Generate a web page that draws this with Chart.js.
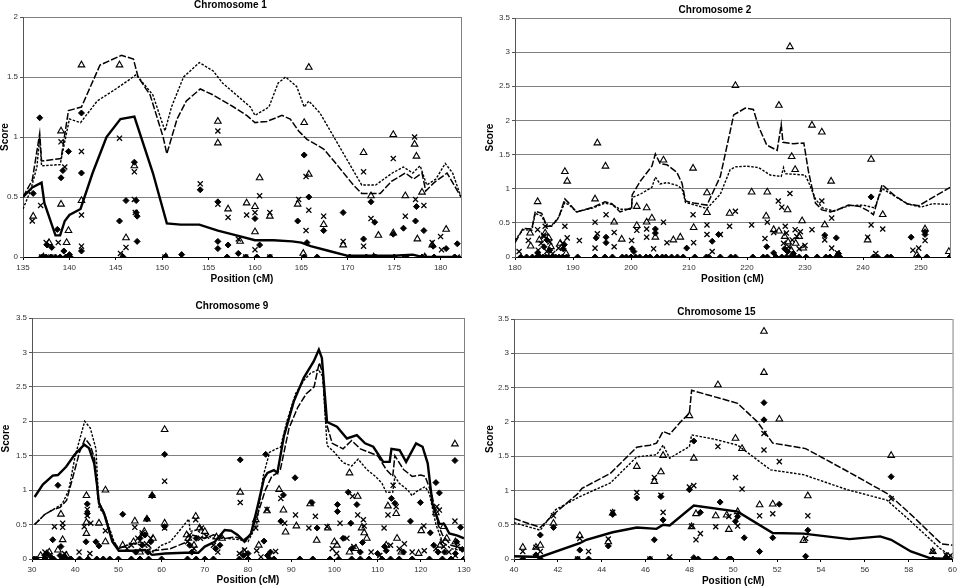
<!DOCTYPE html>
<html>
<head>
<meta charset="utf-8">
<script src="https://cdn.jsdelivr.net/npm/chart.js@4/dist/chart.umd.min.js"></script>
<style>
  body { margin: 0; background: #fff; }
  #wrap { position: relative; width: 960px; height: 586px; overflow: hidden; }
  .panel { position: absolute; width: 480px; height: 293px; }
</style>
</head>
<body>
<div id="wrap">
  <div class="panel" style="left:0;top:0"><canvas id="chr1"></canvas></div>
  <div class="panel" style="left:480px;top:0"><canvas id="chr2"></canvas></div>
  <div class="panel" style="left:0;top:293px"><canvas id="chr9"></canvas></div>
  <div class="panel" style="left:480px;top:293px"><canvas id="chr15"></canvas></div>
</div>
<script>
// ---- Chromosome 1 ----
const chr1Solid = [[135,0.5],[136,0.58],[137,0.62],[137.3,0.45],[138.5,0.18],[139,0.18],[139.5,0.3],[140,0.35],[141.2,0.4],[142.5,0.7],[144,1.0],[145.5,1.15],[147,1.17],[149,0.7],[150.5,0.28],[152,0.27],[154,0.27],[156,0.22],[158,0.18],[160,0.14],[162,0.14],[164,0.13],[165,0.12],[166,0.09],[168,0.05],[170,0.01],[172,0.01],[175,0.01],[177,0.02],[178,0],[182.2,0]];
const chr1Dashed = [[135,0.5],[136,0.64],[136.8,1.03],[137,0.8],[139.1,0.82],[139.9,1.22],[141.3,1.25],[143.3,1.6],[145.6,1.68],[146.9,1.65],[147.4,1.5],[148.7,1.35],[150.1,1.0],[150.5,0.86],[151.6,1.15],[152.6,1.3],[154.1,1.4],[155.5,1.35],[157.7,1.25],[159.1,1.18],[160,1.12],[161.3,1.13],[162.9,1.18],[163.8,1.15],[164.7,1.05],[165.6,0.98],[167.4,0.9],[168.5,0.8],[170.6,0.6],[171.5,0.53],[173.5,0.53],[174.7,0.63],[176.2,0.7],[177.1,0.65],[178,0.7],[178.4,0.55],[179.3,0.62],[180.7,0.7],[182.2,0.5]];
const chr1Dotted = [[135,0.4],[135.8,0.55],[136.5,0.75],[136.8,1.0],[137,0.76],[139,0.77],[140,1.15],[141.2,1.12],[143,1.3],[145,1.4],[146.5,1.48],[147.2,1.52],[149,1.35],[150.3,1.05],[151,1.25],[152.3,1.5],[154,1.62],[155.5,1.55],[156.5,1.45],[158,1.35],[159.5,1.25],[160,1.18],[161.5,1.25],[162.5,1.45],[163.3,1.5],[164.5,1.42],[165.3,1.25],[165.8,1.3],[167,1.2],[168.5,1.0],[170,0.8],[171.5,0.6],[173,0.6],[174.8,0.7],[176,0.75],[177,0.7],[177.8,0.76],[178.5,0.6],[179.5,0.65],[180.5,0.78],[181.3,0.7],[182.2,0.5]];
const chr1Diamonds = [[136.8,1.16],[139.1,0.66],[139.3,0.72],[139.9,0.88],[141.3,1.2],[141.3,0.7],[136.1,0.53],[138.7,0.23],[145.4,0.3],[146.1,0.47],[147,0.79],[147.2,0.47],[147.2,0.37],[147.3,0.34],[147.3,0.13],[154.1,0.56],[156,0.46],[156,0.13],[156,0.07],[157.1,0.1],[158.2,0.03],[160,0.32],[160.5,0.1],[165.3,0.85],[165.6,0.12],[165.8,0.5],[164.6,0.3],[167.4,0.22],[169.5,0.37],[172.5,0.46],[172.9,0.29],[171.7,0.15],[177.3,0.3],[177.4,0.42],[178.2,0.22],[179.2,0.09],[180.6,0.07],[181.8,0.11],[174.9,0.19],[176,0.24],[141.3,0.05],[137.6,0.1],[138.1,0.08],[139.4,0.05],[140,0.02],[137,0],[137.5,0],[138,0],[138.5,0],[139,0],[139.6,0],[140.1,0],[145.8,0],[150.3,0],[152.1,0.02],[157,0],[159,0],[160.2,0],[161.6,0],[165.3,0],[166.7,0],[170.2,0],[172,0],[173,0],[175,0],[176.3,0],[178,0],[179.3,0],[181.5,0]];
const chr1Crosses = [[136,0.3],[136.9,0.43],[139.1,0.96],[139.5,0.75],[141.3,0.88],[141.3,0.35],[141.3,0.09],[145.4,0.99],[146.1,0.08],[145.5,0.03],[147,0.71],[147,0.48],[147.1,0.37],[154.1,0.61],[156,1.05],[156,0.44],[157.1,0.33],[158.2,0.15],[159.1,0.35],[160,0.37],[160,0.06],[160.5,0.51],[161.6,0.37],[164.7,0.48],[165.5,0.22],[165.8,0.39],[165.5,0.67],[167.4,0.34],[169.5,0.13],[171.7,0.71],[171.7,0.09],[172.5,0.32],[174.9,0.82],[176.2,0.34],[177.2,1.0],[177.3,0.48],[178.2,0.43],[179.1,0.12],[180,0.17],[180.1,0.06],[137.5,0.12],[138.8,0.12],[137,0],[138,0],[150.3,0],[159,0],[161.6,0],[170,0],[176,0],[178.2,0],[181.8,0]];
const chr1Triangles = [[136.1,0.34],[141.3,1.6],[145.4,1.6],[139.1,0.44],[139.1,1.05],[139.9,0.22],[141.3,0.47],[146.1,0.16],[147,0.76],[156,1.13],[156,0.95],[157.1,0.4],[159.1,0.45],[160,0.42],[160,0.21],[160.5,0.66],[161.6,0.34],[164.6,0.44],[165.3,1.12],[165.8,1.58],[165.8,0.69],[167.4,0.27],[169.5,0.1],[171.7,0.87],[172.5,0.51],[173.3,0.18],[174.9,1.02],[174.9,0.2],[176.2,0.51],[177.2,0.94],[177.4,0.84],[178,0.54],[179.1,0.1],[180.6,0.23],[177.5,0.15],[158.4,0.13],[137.8,0.12],[139.7,0.12],[137.2,0],[145.7,0],[150.4,0],[165.2,0.03],[172.8,0],[178.3,0]];

// ---- Chromosome 2 ----
const chr2Dashed = [[180,0.21],[181.4,0.42],[182.9,0.41],[183.5,0.67],[184.6,0.64],[185.5,0.45],[186.3,0.45],[187.5,0.57],[188.6,0.85],[189.5,0.77],[190.6,0.66],[193.5,0.73],[195.5,0.81],[196.7,0.78],[198.1,0.66],[200.1,0.72],[200.2,0.91],[201.6,1.11],[203.6,1.33],[204.2,1.51],[205,1.37],[206.2,1.35],[207.9,1.24],[208.8,1.08],[209.4,0.82],[210.8,0.79],[213.1,0.76],[215.4,1.18],[217.1,1.84],[217.7,2.08],[219.7,2.18],[221.1,2.16],[222,1.91],[223.4,1.64],[225.2,1.56],[225.9,1.94],[226.2,1.68],[228,1.66],[229.8,1.67],[230.6,1.25],[231.8,0.79],[232.9,0.69],[234.4,0.66],[235.8,0.7],[237.5,0.76],[239.5,0.74],[241.2,0.66],[241.8,0.62],[243.3,1.06],[245.3,0.91],[247.6,0.78],[249.6,0.75],[255,1.02]];
const chr2Dotted = [[180,0.25],[181.4,0.4],[182.9,0.39],[183.5,0.64],[184.6,0.6],[185.5,0.44],[186.3,0.46],[187.5,0.58],[188.6,0.8],[189.5,0.75],[190.6,0.66],[193.5,0.72],[195.5,0.79],[196.7,0.77],[198.1,0.7],[200.1,0.7],[200.2,0.87],[201.6,0.92],[203.6,1.02],[204.2,1.17],[205,1.07],[206.2,1.09],[207.9,1.05],[208.8,1.0],[209.4,0.8],[213.1,0.71],[215.4,0.92],[217.1,1.28],[218,1.32],[220,1.33],[222,1.31],[224,1.2],[225.9,1.18],[226.3,1.31],[226.6,1.22],[230,1.2],[230.6,1.1],[231.8,0.85],[233,0.72],[235,0.67],[237.5,0.75],[240,0.76],[242,0.72],[243.3,1.0],[245.3,0.9],[247.6,0.78],[250,0.73],[252,0.78],[255,0.77]];
const chr2Diamonds = [[241.4,0.88],[248.3,0.29],[250.7,0.37],[250.7,0.33],[235.4,0.28],[233.4,0.32],[215.1,0.33],[214,0.23],[209.6,0.13],[223.4,0.15],[224.6,0.06],[204.2,0.35],[204.2,0.41],[195.7,0.29],[195.7,0.21],[183.9,0.06],[185,0.15],[185.5,0.25],[186,0.1],[188.3,0.12],[188.5,0.18],[194,0.28],[200.2,0.12],[200.5,0.08],[226.5,0.12],[227,0.08],[228,0.05],[235.8,0.05],[181,0],[182,0],[183,0],[183.8,0],[184.3,0],[184.8,0],[185.3,0],[185.8,0],[186.4,0],[187,0],[187.6,0],[188.2,0],[188.9,0],[190.8,0],[193.8,0],[195.5,0],[196.8,0],[198.5,0],[199.2,0],[200,0],[200.8,0],[201.5,0],[202.6,0],[203.3,0],[204.5,0],[205.4,0],[206,0],[207,0],[208,0],[209,0],[211,0],[213,0],[213.4,0],[215.4,0],[217.2,0],[218,0],[221,0],[222.8,0],[223.5,0],[225,0],[226,0],[226.8,0],[227.5,0],[228.2,0],[229,0],[230.2,0],[232.1,0],[233.6,0],[234.3,0],[235.4,0],[236,0],[241.8,0],[242.5,0],[244.2,0],[244.8,0],[249.5,0],[251,0],[255,0]];
const chr2Crosses = [[180.7,0.08],[182.3,0.24],[183.9,0.4],[184.9,0.32],[185.2,0.45],[188.6,0.45],[189,0.28],[191.1,0.24],[193.8,0.51],[194.2,0.34],[195.7,0.62],[197.1,0.36],[197.1,0.15],[193.8,0.13],[200.1,0.24],[201,0.39],[202.7,0.41],[202.7,0.29],[203.9,0.12],[205.6,0.51],[206.2,0.21],[210.7,0.62],[210.8,0.21],[213.1,0.47],[213.1,0.33],[214,0.08],[215.4,0.33],[217,0.45],[218,0.67],[220.8,0.47],[223.1,0.27],[223.5,0.51],[224.6,0.36],[225.4,0.82],[226,0.73],[227.4,0.93],[226.6,0.45],[228.3,0.4],[229.2,0.37],[230,0.17],[231.2,0.4],[232.9,0.82],[233.4,0.25],[234.6,0.13],[234.6,0.57],[240.8,0.29],[241.4,0.47],[243.4,0.41],[248.6,0.1],[250.7,0.24],[249.6,0.13],[184,0.1],[184.5,0.2],[185,0.3],[185.5,0.08],[186,0.22],[186.5,0.05],[187.5,0.13],[188.2,0.2],[226.3,0.2],[226.8,0.35],[227.2,0.15],[227.8,0.25],[228.6,0.3],[229,0.12],[242.2,0.05],[235.6,0.06]];
const chr2Triangles = [[183.9,0.81],[182.6,0.35],[182.7,0.16],[188.6,1.25],[189,1.11],[193.8,0.85],[194.2,1.67],[195.6,1.33],[197.1,0.51],[198.4,0.26],[201,0.74],[201,0.46],[202.7,0.72],[203.6,0.57],[202.7,0.51],[205.6,1.42],[204.2,0.29],[207.3,0.25],[208.5,0.29],[210.7,1.3],[210.8,0.43],[213.1,0.94],[213.1,0.65],[217,0.64],[218,2.51],[220.8,0.95],[223.3,0.6],[223.5,0.95],[224.6,0.4],[225.5,2.22],[227.7,1.47],[227.4,3.08],[228.3,1.28],[227,0.69],[229.5,0.53],[231.2,1.93],[232.9,1.83],[233.4,0.47],[234.5,1.11],[241.4,1.43],[243.4,0.62],[240.8,0.25],[249.3,0.03],[250.7,0.41],[254.8,0.08],[229.7,0.13],[184.2,0.25],[185.2,0.35],[185.8,0.28],[186.2,0.15],[187.8,0.2],[188.8,0.05],[225.5,0.38],[226.5,0.3],[227.1,0.22],[227.6,0.1],[228.4,0.2],[229,0.3]];

// ---- Chromosome 9 ----
const chr9Solid = [[30.6,0.9],[32.5,1.08],[34.8,1.21],[36,1.22],[37.9,1.34],[39.8,1.51],[42.1,1.66],[43.2,1.61],[44.4,1.39],[45.1,1.05],[45.5,0.81],[46.7,0.66],[48.6,0.25],[50.1,0.12],[53.2,0.12],[56.2,0.13],[57.8,0.06],[60.8,0.08],[65.4,0.09],[68.5,0.09],[70,0.18],[72.3,0.25],[74.6,0.42],[76.1,0.41],[77.6,0.35],[79.2,0.25],[80.7,0.37],[82.2,0.76],[83.7,1.17],[84.5,1.25],[86,1.29],[86.8,1.25],[88.3,1.78],[90.6,2.29],[92.9,2.63],[95.2,2.87],[96.4,3.04],[97.1,2.92],[98.3,1.99],[100.6,1.92],[102.9,1.75],[105.2,1.8],[107.1,1.68],[109,1.63],[111.3,1.41],[112.8,1.41],[113.2,1.6],[115.1,1.58],[116.6,1.41],[118.9,1.68],[120.4,1.63],[121.6,1.39],[122.7,0.8],[124.3,0.51],[125.4,0.51],[126.6,0.37],[128.5,0.34],[130,0.3]];
const chr9Dashed = [[30.6,0.5],[33,0.65],[35,0.72],[36.5,0.75],[38,0.85],[39.5,1.2],[41,1.55],[42.3,1.75],[43.5,1.65],[44.5,1.45],[45.3,0.85],[46.5,0.7],[48.5,0.3],[50,0.15],[52,0.2],[55,0.25],[57,0.2],[58,0.12],[62,0.15],[66,0.25],[67,0.35],[70,0.3],[72,0.35],[75,0.3],[77,0.32],[79,0.28],[80.5,0.35],[82,0.6],[84,1.0],[85.5,1.2],[86.8,1.25],[87.5,1.3],[89.5,1.9],[91.5,2.2],[93.5,2.4],[95.3,2.5],[96.5,2.85],[97.3,2.7],[98,2.0],[99.5,1.68],[102,1.6],[104,1.72],[106,1.6],[108,1.55],[110,1.5],[112,1.3],[113.5,1.2],[114,1.5],[116,1.3],[118,1.2],[120,1.22],[121,1.2],[122.5,0.95],[124,0.5],[125,0.35],[127,0.2],[130,0.15]];
const chr9Dotted = [[30.6,0.5],[33,0.65],[35,0.72],[37,0.8],[38.5,1.0],[40,1.5],[42.2,2.0],[43.5,1.9],[44.8,1.6],[45.5,0.75],[47,0.62],[49,0.25],[50,0.15],[52,0.2],[54,0.22],[56,0.2],[58,0.1],[60,0.2],[62,0.25],[64,0.4],[66.3,0.58],[66.6,0.4],[68,0.42],[70,0.35],[72,0.3],[75,0.3],[78,0.28],[80,0.25],[82,0.5],[83.5,1.2],[85,1.55],[86.5,1.6],[87.5,1.62],[89,2.0],[91,2.4],[93,2.6],[94.5,2.7],[96.3,2.75],[97.3,2.65],[98.3,1.65],[100,1.55],[102,1.4],[104,1.35],[105.5,1.45],[107.5,1.3],[109.5,1.2],[111,1.1],[112,0.97],[113.5,0.97],[114,1.2],[115,1.1],[117,1.0],[118,0.92],[119,0.98],[121,1.05],[122,0.95],[123.5,0.5],[125,0.25],[127,0.15],[130,0.12]];
const chr9Diamonds = [[36,1.07],[34.8,0.28],[36.7,0.18],[42.8,0.8],[42.8,0.66],[42.5,0.25],[44.8,0.25],[45.5,0.19],[51,0.65],[57.8,0.92],[56.6,0.58],[60.7,1.52],[60.7,0.47],[78.2,1.44],[83.7,0.26],[84.1,1.52],[88.2,0.93],[87.6,0.55],[90.9,1.18],[94.8,0.82],[96,0.45],[100.7,0.79],[100.7,0.69],[103.2,0.97],[103.8,0.52],[105.2,0.79],[106.5,0.24],[111.6,0.18],[113.2,0.88],[114,0.81],[117.6,0.55],[119.9,0.82],[123.5,1.11],[124.3,0.96],[127.9,1.43],[122.2,0.38],[128.3,0.25],[129.2,0.46],[129.6,0.14],[33,0.05],[33.5,0.08],[34.5,0.02],[36.5,0.05],[37.5,0.03],[54,0.1],[55,0.3],[55.5,0.2],[56.2,0.35],[56.8,0.1],[57.5,0.25],[66.5,0.2],[67,0.1],[68,0.3],[72.5,0.15],[73.5,0.2],[79,0.05],[80,0.08],[84.5,0.05],[85.2,0.1],[102,0.3],[104,0.15],[106,0.1],[110,0.08],[112,0.12],[116,0.1],[123,0.2],[124,0.1],[125.5,0.1],[128,0.08],[30.5,0],[31,0],[33,0],[35,0],[37,0],[38,0],[39,0],[41,0],[43,0],[45,0],[46.5,0],[48,0],[50,0],[53,0],[55,0],[57,0],[60,0],[66,0],[68,0],[70,0],[72,0],[78,0],[80,0],[85,0],[86,0],[92,0],[95,0],[99,0],[101,0],[104,0],[106,0],[108,0],[111,0],[113,0],[115,0],[118,0],[122,0],[125,0],[127,0],[130,0]];
const chr9Crosses = [[35.2,0.47],[37.1,0.46],[37.1,0.52],[42.8,0.72],[42.8,0.63],[42.1,0.47],[43.6,0.52],[43.4,0.08],[40.9,0.1],[47,0.41],[53.8,0.46],[55.5,0.38],[60.7,1.13],[60.7,0.45],[67.9,0.57],[69.2,0.45],[70.4,0.33],[78.2,0.82],[79.2,0.13],[81.8,0.45],[84.4,0.72],[86.4,0.11],[87.6,0.88],[88.5,0.52],[91,0.64],[94.1,0.45],[95.6,0.62],[98.3,0.47],[101.3,0.52],[102.9,0.3],[104.2,0.91],[105.4,0.64],[106.7,0.57],[106.9,0.48],[111.5,0.45],[112.4,0.64],[113.6,1.07],[114.3,0.76],[116.2,0.22],[120.7,0.48],[120.8,0.12],[123.7,0.76],[124.3,0.71],[127.9,0.55],[128.5,0.18],[125.3,0.18],[33,0.1],[34,0.05],[37.5,0.08],[52,0.15],[53,0.2],[54.5,0.3],[55.5,0.35],[56.5,0.22],[57.5,0.3],[66,0.25],[66.5,0.35],[67.5,0.15],[69,0.3],[72,0.2],[73,0.1],[78,0.08],[82,0.12],[83,0.03],[99.5,0.15],[100.5,0.08],[104.5,0.18],[108.5,0.1],[110.5,0.05],[113,0.2],[115,0.15],[118,0.1],[123.5,0.15],[125,0.25],[126.5,0.1],[128,0.05]];
const chr9Triangles = [[36.7,0.65],[37.1,0.28],[36,0.13],[42.6,0.92],[42.6,0.53],[42.6,0.37],[47,1.0],[45.5,0.52],[47,0.25],[53.8,0.55],[57.8,0.92],[56.6,0.58],[60.7,1.88],[60.7,0.52],[65.8,0.35],[67.9,0.62],[72.7,0.32],[78.2,0.97],[81.8,0.57],[84.4,0.7],[87.2,1.01],[88.2,0.71],[88.7,0.39],[91.2,0.48],[94.4,0.8],[95.9,0.27],[98.5,0.45],[100.6,0.2],[103.5,1.25],[105.4,0.91],[106.3,0.45],[106.9,0.38],[112.4,0.77],[114.3,0.66],[114.5,0.3],[120.1,0.41],[123.5,0.67],[127.9,1.67],[125.3,0.47],[32,0.05],[34,0.1],[38,0.05],[51,0.2],[53.5,0.25],[55,0.1],[56,0.4],[58,0.3],[66.2,0.3],[67.5,0.2],[68.8,0.45],[70,0.4],[74,0.3],[79,0.1],[82.5,0.2],[100,0.25],[103.5,0.1],[105,0.15],[107.5,0.3],[112,0.2],[115.5,0.1],[119.5,0.08],[124.5,0.2],[126,0.3],[128,0.25]];

// ---- Chromosome 15 ----
const chr15Solid = [[40,0.04],[41.2,0.03],[43,0.23],[43.3,0.28],[44.5,0.39],[45.6,0.46],[46.5,0.44],[46.8,0.5],[47.1,0.49],[48.2,0.78],[50.2,0.69],[51.8,0.38],[53.2,0.37],[55.3,0.29],[56.7,0.33],[57.2,0.28],[58.1,0.11],[59,0.01],[60,0]];
const chr15Dashed = [[40,0.59],[41.2,0.46],[41.8,0.65],[42.9,0.95],[43.1,1.03],[44.4,1.25],[45.6,1.63],[46.2,1.66],[46.5,1.69],[46.8,1.86],[47.1,1.82],[47.6,2.0],[48,2.13],[48.1,2.46],[49.1,2.37],[50.2,2.27],[51.1,2.0],[51.8,1.69],[53.3,1.61],[55.2,1.28],[57.1,0.94],[58.2,0.62],[59.3,0.28],[59.5,0.22],[60,0.2]];
const chr15Dotted = [[40,0.53],[41.2,0.42],[41.9,0.72],[43,0.91],[44.4,1.11],[45.6,1.49],[46.5,1.52],[46.8,1.66],[47.1,1.47],[48,1.64],[48.1,1.81],[49.1,1.75],[50.2,1.66],[51.7,1.3],[53.2,1.23],[55.2,1.01],[57,0.86],[58.2,0.52],[59.4,0.16],[60,0.03]];
const chr15Diamonds = [[40.4,0],[41,0.06],[41.2,0],[41.2,0.35],[41.8,0.46],[42.9,0],[43,0.13],[43.4,0],[44.3,0.19],[44.5,0.65],[45.6,0.89],[46.4,0.28],[46.7,0.91],[46.8,0.57],[48,1.01],[48.2,1.72],[48.5,0.68],[48.2,0.02],[48.4,0],[49.2,0],[49.8,0],[49.9,0],[49.4,0.83],[50.1,0.55],[50.2,0.62],[50.5,0.31],[51.2,0.11],[51.4,2.28],[51.4,2.03],[51.8,0.31],[52.1,0.8],[53.4,0.42],[53.3,0.04],[57.2,1.2],[59.1,0],[59.7,0],[59.8,0],[46.2,0],[47.1,0]];
const chr15Crosses = [[40.4,0.11],[41,0.17],[41.2,0.11],[41.8,0.63],[43,0.3],[43.4,0.11],[44.3,0.29],[44.5,0.68],[45.6,0.97],[46.4,1.19],[46.7,0.93],[46.8,0.68],[48,1.05],[48.2,1.07],[48.3,0.28],[48.5,0.37],[48.1,0.48],[49.3,1.64],[49.2,0.47],[49.8,0.62],[50.1,1.19],[50.4,1.02],[50.2,0.48],[51.2,0.63],[51.4,1.83],[51.4,1.59],[51.8,0.66],[52.1,1.42],[53.4,0.63],[53.3,0.3],[57.2,0.88],[59.1,0.11],[59.7,0.06],[59.9,0.05],[46.2,0],[47.1,0.03],[42.9,0]];
const chr15Triangles = [[40.4,0.17],[41,0.17],[41.2,0.2],[41.8,0.52],[43,0.34],[44.3,0.25],[44.5,0.67],[45.6,1.35],[46.4,1.13],[46.7,1.27],[46.8,1.51],[48,2.09],[48.2,1.47],[48.3,0.66],[48.1,0.47],[49.3,2.54],[49.2,0.63],[49.7,0.64],[49.8,0.43],[50.1,1.76],[50.4,1.61],[50.2,0.69],[51.2,0.79],[51.4,3.32],[51.4,2.72],[51.8,0.8],[52.1,2.04],[53.2,0.27],[53.4,0.92],[57.2,1.51],[59.1,0.11],[59.7,0.03]];

const FONT = "'Liberation Sans', Arial, sans-serif";

function toXY(pairs) {
  return pairs.map(p => ({ x: p[0], y: p[1] }));
}

// right edge of the plot frame
const framePlugin = {
  id: 'frame',
  beforeDatasetsDraw(chart) {
    const a = chart.chartArea;
    const ctx = chart.ctx;
    ctx.save();
    ctx.strokeStyle = '#808080';
    ctx.lineWidth = 1;
    ctx.beginPath();
    ctx.moveTo(a.right + 0.5, a.top);
    ctx.lineTo(a.right + 0.5, a.bottom);
    ctx.stroke();
    ctx.restore();
  }
};

function lineSet(data, width, dash) {
  return {
    data: toXY(data), showLine: true, pointRadius: 0, borderColor: '#000',
    borderWidth: width, borderDash: dash, fill: false, tension: 0
  };
}

function pointSet(data, style, radius, fill, width) {
  return {
    data: toXY(data), showLine: false, pointStyle: style, pointRadius: radius,
    pointBorderColor: '#000', pointBackgroundColor: fill, pointBorderWidth: width
  };
}

function makePanel(id, title, box, xRange, yMax, lines, points) {
  const datasets = [];
  if (lines.solid) datasets.push(lineSet(lines.solid, 2.4, []));
  datasets.push(lineSet(lines.dashed, 1.5, [7, 2]));
  datasets.push(lineSet(lines.dotted, 1.4, [2.5, 1.5]));
  datasets.push(pointSet(points.diamonds, 'rectRot', 3, '#000', 1));
  datasets.push(pointSet(points.crosses, 'crossRot', 3.6, '#000', 1.3));
  datasets.push(pointSet(points.triangles, 'triangle', 3.8, 'rgba(255,255,255,0)', 1.1));

  new Chart(document.getElementById(id), {
    type: 'scatter',
    data: { datasets: datasets },
    plugins: [framePlugin],
    options: {
      responsive: true,
      maintainAspectRatio: false,
      animation: false,
      layout: { padding: { top: 0, left: 0, bottom: 0, right: 480 - box.right } },
      plugins: {
        legend: { display: false },
        tooltip: { enabled: false },
        title: {
          display: true, text: title, color: '#000',
          font: { family: FONT, size: 10, weight: 'bold', lineHeight: 1 },
          padding: { top: box.titleTop, bottom: box.top - 10 - box.titleTop }
        }
      },
      scales: {
        x: {
          type: 'linear', min: xRange[0], max: xRange[1],
          afterFit: s => { s.height = 293 - box.bottom; },
          ticks: {
            stepSize: xRange[2], includeBounds: false, padding: 3,
            color: '#333', font: { family: FONT, size: 8 }
          },
          grid: { drawOnChartArea: false, drawTicks: true, tickLength: 3, color: '#000' },
          border: { color: '#000', width: 1 },
          title: {
            display: true, text: 'Position (cM)', color: '#000',
            font: { family: FONT, size: 10, weight: 'bold', lineHeight: 1 },
            padding: { top: 0, bottom: box.xTitleBottom }
          }
        },
        y: {
          min: 0, max: yMax,
          afterFit: s => { s.width = box.left; },
          ticks: {
            stepSize: 0.5, padding: 2, color: '#333',
            font: { family: FONT, size: 8 },
            callback: v => String(v)
          },
          grid: { color: '#808080', lineWidth: 1, tickLength: 3, tickColor: '#555' },
          border: { color: '#555', width: 1 },
          title: {
            display: true, text: 'Score', color: '#000',
            font: { family: FONT, size: 10, weight: 'bold', lineHeight: 1 },
            padding: { top: box.yTitleLeft, bottom: 0 }
          }
        }
      }
    }
  });
}

makePanel('chr1', 'Chromosome 1',
  { left: 23, top: 17, right: 461, bottom: 257, titleTop: 0, xTitleBottom: 9, yTitleLeft: 0 },
  [135, 182.2, 5], 2,
  { solid: chr1Solid, dashed: chr1Dashed, dotted: chr1Dotted },
  { diamonds: chr1Diamonds, crosses: chr1Crosses, triangles: chr1Triangles });

makePanel('chr2', 'Chromosome 2',
  { left: 35, top: 18, right: 470, bottom: 257, titleTop: 5, xTitleBottom: 9, yTitleLeft: 5 },
  [180, 255, 10], 3.5,
  { dashed: chr2Dashed, dotted: chr2Dotted },
  { diamonds: chr2Diamonds, crosses: chr2Crosses, triangles: chr2Triangles });

makePanel('chr9', 'Chromosome 9',
  { left: 32, top: 25, right: 464, bottom: 266, titleTop: 8, xTitleBottom: 1, yTitleLeft: 1 },
  [30, 130, 10], 3.5,
  { solid: chr9Solid, dashed: chr9Dashed, dotted: chr9Dotted },
  { diamonds: chr9Diamonds, crosses: chr9Crosses, triangles: chr9Triangles });

makePanel('chr15', 'Chromosome 15',
  { left: 34, top: 26, right: 473, bottom: 266, titleTop: 14, xTitleBottom: 0, yTitleLeft: 5 },
  [40, 60, 2], 3.5,
  { solid: chr15Solid, dashed: chr15Dashed, dotted: chr15Dotted },
  { diamonds: chr15Diamonds, crosses: chr15Crosses, triangles: chr15Triangles });
</script>
</body>
</html>
